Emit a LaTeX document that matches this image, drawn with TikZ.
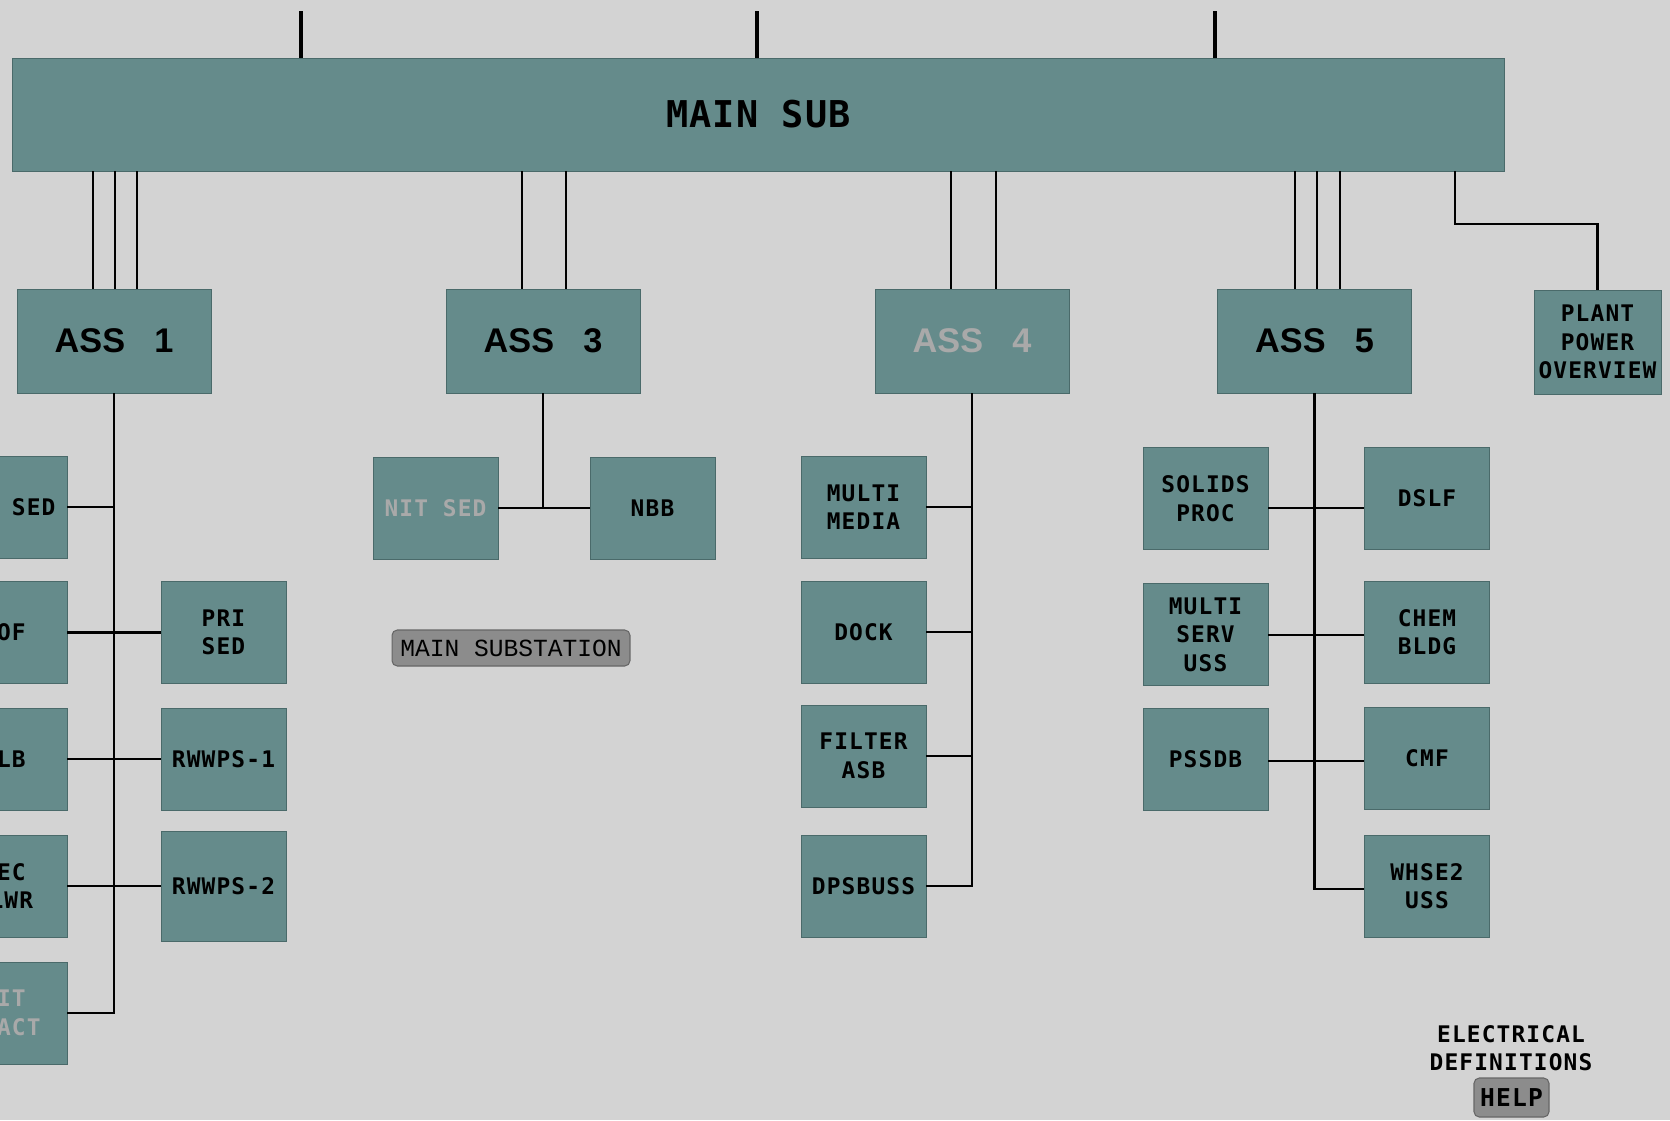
\documentclass[tikz,border=0pt]{standalone}
\usepackage{fontspec}
\newfontfamily\lblfont[LetterSpace=5]{DejaVu Sans Mono}
\newfontfamily\subfont[LetterSpace=3]{DejaVu Sans Mono}
\newfontfamily\bigfont{Liberation Sans}
\newfontfamily\btnfont{Liberation Mono}
\definecolor{bg}{HTML}{D3D3D3}
\definecolor{boxfill}{HTML}{658B8B}
\definecolor{boxedge}{HTML}{4A6A6A}
\definecolor{offtext}{HTML}{A9A9A9}
\definecolor{btnfill}{HTML}{8C8C8C}
\definecolor{btnedge}{HTML}{666666}
\begin{document}
\begin{tikzpicture}[x=0.02cm,y=-0.02cm,
	box/.style={rectangle,fill=boxfill,draw=boxedge,line width=.5pt,inner sep=0pt,align=center},
	feeder/.style={box,minimum width=2.5cm,minimum height=2.04cm,font=\lblfont\bfseries\fontsize{13}{16.3}\selectfont},
	sub/.style={box,minimum width=3.88cm,minimum height=2.08cm,font=\bigfont\bfseries\fontsize{19.5}{24}\selectfont},
	off/.style={text=offtext},
	button/.style={rectangle,rounded corners=3pt,fill=btnfill,draw=btnedge,line width=.6pt,inner sep=0pt},
	wire/.style={line width=1.25pt}]
		\useasboundingbox (0,0) rectangle (1670,1120);
		\fill[bg] (0,0) rectangle (1670,1120);
		\clip (0,0) rectangle (1670,1120);
		
		%bus
		\node[box,minimum width=29.86cm,minimum height=2.26cm,font=\subfont\bfseries\fontsize{21}{26}\selectfont] (main) at (758.5,114.5) {MAIN SUB};
		\foreach \x in {301,757,1215}{
			\draw[line width=2.6pt] (main.north -| \x,0) -- ++(0,-47); }
		
		\node[sub] (ass1) at (114,341) {ASS\hspace{.85em}1};
		\node[sub] (ass3) at (543,341) {ASS\hspace{.85em}3};
		\node[sub,off] (ass4) at (972,341) {ASS\hspace{.85em}4};
		\node[sub] (ass5) at (1314.5,341) {ASS\hspace{.85em}5};
		\node[feeder,minimum width=2.54cm,minimum height=2.08cm] (plant) at (1597.5,342) {PLANT\\POWER\\OVERVIEW};
		
		\foreach \n/\x in {ass1/93,ass1/115,ass1/137,ass3/522,ass3/566,ass4/951,ass4/996,ass5/1295,ass5/1317,ass5/1340}{
			\draw[wire] (\n.north -| \x,0) -- (main.south -| \x,0); }
		\coordinate (ppbend) at (1455,224);
		\draw[wire] (main.south -| ppbend) -- (ppbend) -| (plant.north);
		
		%ass 1
		\node[feeder] (sed) at (4.5,507) {\hphantom{XXXX}SED};
		\node[feeder] (roof) at (4.5,632.5) {\hphantom{X}OF};
		\node[feeder] (lb) at (4.5,759) {\hphantom{X}LB};
		\node[feeder] (ec) at (4.5,886) {\hphantom{X}EC\\\hphantom{X}LWR};
		\node[feeder,off] (itact) at (4.5,1013) {\hphantom{X}IT\\\hphantom{XX}ACT};
		\node[feeder] (prised) at (223.5,632.5) {PRI\\SED};
		\node[feeder] (rw1) at (223.5,759) {RWWPS-1};
		\node[feeder,minimum height=2.2cm] (rw2) at (223.5,886) {RWWPS-2};
		\draw[wire] (ass1.south) |- (itact.east);
		\draw[wire] (sed.east) -- (sed.east -| ass1.south);
		\draw[wire] (roof.east) -- (prised.west);
		\draw[wire] (lb.east) -- (rw1.west);
		\draw[wire] (ec.east) -- (rw2.west);
		
		%ass 3
		\node[feeder,off] (nitsed) at (435.5,508) {NIT SED};
		\node[feeder] (nbb) at (652.5,508) {NBB};
		\draw[wire] (ass3.south) -- (ass3.south |- nbb.west);
		\draw[wire] (nitsed.east) -- (nbb.west);
		\node[button,minimum width=4.76cm,minimum height=.72cm,font=\btnfont\fontsize{14}{16}\selectfont] (mainbtn) at (511,648) {MAIN SUBSTATION};
		
		%ass 4
		\node[feeder] (mmedia) at (863.5,507) {MULTI\\MEDIA};
		\node[feeder] (dock) at (863.5,632) {DOCK};
		\node[feeder] (filter) at (863.5,756) {FILTER\\ASB};
		\node[feeder] (dpsbuss) at (863.5,886) {DPSBUSS};
		\draw[wire] (ass4.south) |- (dpsbuss.east);
		\foreach \n in {mmedia,dock,filter}{
			\draw[wire] (\n.east) -- (\n.east -| ass4.south); }
		
		%ass 5
		\node[feeder] (solids) at (1205.5,498.5) {SOLIDS\\PROC};
		\node[feeder] (mserv) at (1205.5,634.5) {MULTI\\SERV\\USS};
		\node[feeder] (pssdb) at (1205.5,759.5) {PSSDB};
		\node[feeder] (dslf) at (1427,498.5) {DSLF};
		\node[feeder] (chem) at (1427,632) {CHEM\\BLDG};
		\node[feeder] (cmf) at (1427,758.5) {CMF};
		\node[feeder] (whse) at (1427,886) {WHSE2\\USS};
		\draw[wire] (ass5.south) |- (whse.west |- 0,889);
		\foreach \l/\r/\y in {solids/dslf/508,mserv/chem/635,pssdb/cmf/761}{
			\draw[wire] (\l.east |- 0,\y) -- (\r.west |- 0,\y); }
		
		\node[font=\lblfont\bfseries\fontsize{13}{16}\selectfont,align=center] (elec) at (1511,1048) {ELECTRICAL\\DEFINITIONS};
		\node[button,minimum width=1.5cm,minimum height=.78cm,font=\lblfont\bfseries\fontsize{14}{16}\selectfont] (help) at (1511.5,1097.5) {HELP};
		
	\end{tikzpicture}
\end{document}
